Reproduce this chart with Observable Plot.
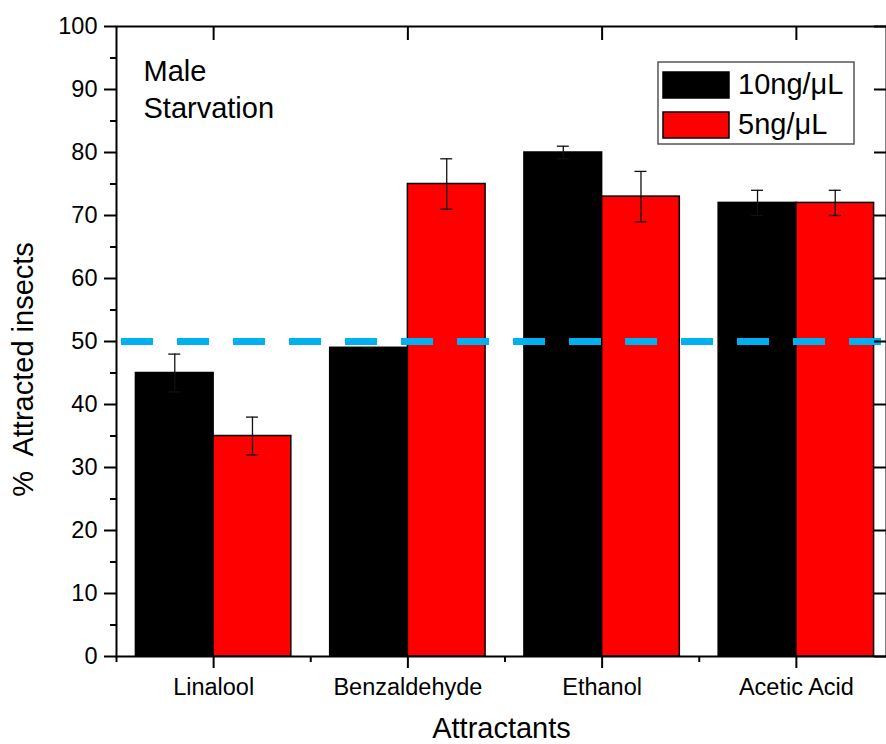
<!DOCTYPE html>
<html>
<head>
<meta charset="utf-8">
<script src="https://cdn.jsdelivr.net/npm/d3@7"></script>
<script src="https://cdn.jsdelivr.net/npm/@observablehq/plot@0.6"></script>
<style>
  body { margin: 0; background: #fff; }
  #chart { position: relative; width: 886px; height: 744px; overflow: hidden; font-family: "Liberation Sans", Arial, sans-serif; }
  #chart > svg { position: absolute; left: 0; top: 0; }
</style>
</head>
<body>
<div id="chart"></div>
<script>
// Attraction of starved males to four compounds at two concentrations
const attractants = ["Linalool", "Benzaldehyde", "Ethanol", "Acetic Acid"];
const seriesNames = ["10ng/μL", "5ng/μL"];
const seriesColors = ["#000000", "#ff0000"];
const mean10 = [45, 49, 80, 72];
const err10 = [3, 0, 1, 2];
const mean5 = [35, 75, 73, 72];
const err5 = [3, 4, 4, 2];
const yMajorTicks = [0, 10, 20, 30, 40, 50, 60, 70, 80, 90, 100];
const yMinorTicks = [5, 15, 25, 35, 45, 55, 65, 75, 85, 95];
const chanceLevel = 50;

// category positions on a linear axis, minor ticks between groups
const catPos = attractants.map((_, i) => i + 1);
const catMinor = d3.range(0.5, attractants.length + 1, 1);
const barWidth = 0.4;

const rows = attractants.flatMap((name, i) => [
  { name, series: seriesNames[0], x1: catPos[i] - barWidth, x2: catPos[i], value: mean10[i], err: err10[i] },
  { name, series: seriesNames[1], x1: catPos[i], x2: catPos[i] + barWidth, value: mean5[i], err: err5[i] }
]).map(d => ({ ...d, xc: (d.x1 + d.x2) / 2, lo: d.value - d.err, hi: d.value + d.err }));

const xDomain = [0.5, attractants.length + 0.5];
const xRange = [116, 893];
const capHalf = 6 / ((xRange[1] - xRange[0]) / (xDomain[1] - xDomain[0]));

const font = "Liberation Sans, Arial, sans-serif";
const tickFont = 23.5;
const titleFont = 29;

const plot = Plot.plot({
  width: 886,
  height: 744,
  marginLeft: 116,
  marginTop: 26,
  marginBottom: 88,
  marginRight: 0,
  style: { fontFamily: font, background: "transparent", color: "#000", overflow: "hidden" },
  x: { domain: xDomain, range: xRange },
  y: { domain: [0, 100], range: [656, 26] },
  color: { domain: seriesNames, range: seriesColors },
  marks: [
    Plot.rect(rows, { x1: "x1", x2: "x2", y1: 0, y2: "value", fill: "series", stroke: "#000", strokeWidth: 1.5 }),
    Plot.ruleX(rows, { x: "xc", y1: "lo", y2: "hi", stroke: "#111", strokeWidth: 1.3 }),
    Plot.ruleY(rows, { y: "hi", x1: d => d.xc - capHalf, x2: d => d.xc + capHalf, stroke: "#111", strokeWidth: 1.3 }),
    Plot.ruleY(rows, { y: "lo", x1: d => d.xc - capHalf, x2: d => d.xc + capHalf, stroke: "#111", strokeWidth: 1.3 }),
    Plot.ruleY([chanceLevel], { stroke: "#00b0f0", strokeWidth: 7, strokeDasharray: "32,24", strokeDashoffset: -5 }),
    Plot.frame({ stroke: "#000", strokeWidth: 2 }),
    // left axis: labelled major ticks and short minor ticks, pointing out
    Plot.axisY(yMajorTicks, { anchor: "left", tickSize: 12, tickPadding: 7, strokeWidth: 2, fontSize: tickFont, label: null }),
    Plot.axisY(yMinorTicks, { anchor: "left", tickSize: 6, strokeWidth: 2, tickFormat: () => "", label: null }),
    // right axis: inward ticks only
    Plot.axisY(yMajorTicks, { anchor: "right", tickSize: 13, dx: -13, strokeWidth: 2, tickFormat: () => "", label: null }),
    // bottom axis: category labels, minor ticks between groups
    Plot.axisX(catPos, { anchor: "bottom", tickSize: 12, tickPadding: 10, strokeWidth: 2, fontSize: tickFont, tickFormat: d => attractants[d - 1], label: null }),
    Plot.axisX(catMinor, { anchor: "bottom", tickSize: 6, strokeWidth: 2, tickFormat: () => "", label: null }),
    // top axis: inward ticks only
    Plot.axisX(catPos, { anchor: "top", tickSize: 13, dy: 13, strokeWidth: 2, tickFormat: () => "", label: null }),
    // axis titles
    Plot.text(["Attractants"], { frameAnchor: "bottom", dy: 81, fontSize: titleFont, textAnchor: "middle", lineAnchor: "bottom", fill: "#000" }),
    Plot.text(["%  Attracted insects"], { frameAnchor: "left", dx: -93, dy: 28, rotate: -90, fontSize: titleFont, textAnchor: "middle", lineAnchor: "middle", fill: "#000" }),
    // panel annotation
    Plot.text(["Male\nStarvation"], { frameAnchor: "top-left", dx: 27, dy: 28, textAnchor: "start", lineAnchor: "top", lineHeight: 1.28, fontSize: titleFont, fill: "#000" })
  ]
});

const chart = document.getElementById("chart");
chart.appendChild(plot);

// legend box inside the plot area
const legend = d3.select(chart).append("svg")
  .attr("width", 886).attr("height", 744)
  .style("pointer-events", "none")
  .attr("font-family", font);
legend.append("rect")
  .attr("x", 658).attr("y", 62).attr("width", 196).attr("height", 82)
  .attr("fill", "#fff").attr("stroke", "#555").attr("stroke-width", 1.5);
const item = legend.selectAll("g.item").data(seriesNames).join("g")
  .attr("class", "item")
  .attr("transform", (d, i) => `translate(663, ${72 + i * 40})`);
item.append("rect")
  .attr("width", 66).attr("height", 26)
  .attr("fill", (d, i) => seriesColors[i])
  .attr("stroke", "#000").attr("stroke-width", 1.5);
item.append("text")
  .attr("x", 75).attr("y", 22)
  .attr("font-size", titleFont).attr("fill", "#000")
  .text(d => d);
</script>
</body>
</html>
